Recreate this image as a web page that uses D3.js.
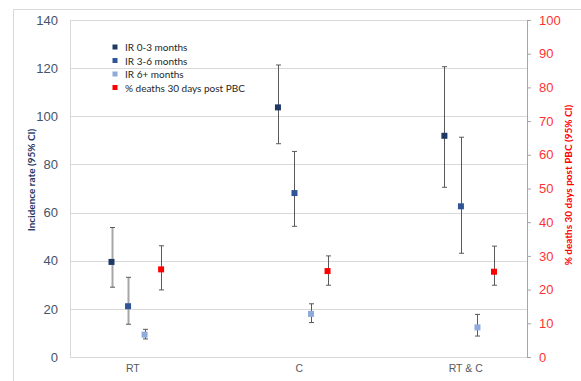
<!DOCTYPE html>
<html>
<head>
<meta charset="utf-8">
<script src="https://cdn.jsdelivr.net/npm/d3@7.9.0/dist/d3.min.js"></script>
<style>
  body { margin: 0; background: #fff; }
  svg { display: block; font-family: Lato, "Liberation Sans", sans-serif; }
</style>
</head>
<body>
<svg id="chart" width="581" height="381"></svg>
<script>
// categories and series
const categories = ['RT', 'C', 'RT & C'];
const seriesNames = ['IR 0-3 months', 'IR 3-6 months', 'IR 6+ months', '% deaths 30 days post PBC'];

// incidence rates (left axis) with 95% CI
const ir03 = [39.5, 103.7, 91.9];
const ir03Lo = [29.0, 88.6, 70.5];
const ir03Hi = [53.8, 121.3, 120.6];

const ir36 = [21.1, 68.1, 62.6];
const ir36Lo = [13.6, 54.3, 43.1];
const ir36Hi = [33.1, 85.4, 91.3];

const ir6p = [9.3, 17.9, 12.3];
const ir6pLo = [7.5, 14.3, 8.7];
const ir6pHi = [11.5, 22.1, 17.7];

// % deaths (right axis) with 95% CI
const deaths = [26.0, 25.5, 25.3];
const deathsLo = [19.9, 21.3, 21.3];
const deathsHi = [33.0, 30.0, 32.9];

const leftTicks = [0, 20, 40, 60, 80, 100, 120, 140];
const rightTicks = [0, 10, 20, 30, 40, 50, 60, 70, 80, 90, 100];

const colors = ['#1f3864', '#2f5597', '#8faadc', '#ff0000'];

const svg = d3.select('#chart');
const plot = { left: 70, right: 527, top: 20, bottom: 357 };

const yL = d3.scaleLinear().domain([0, 140]).range([plot.bottom, plot.top]);
const yR = d3.scaleLinear().domain([0, 100]).range([plot.bottom, plot.top]);
const x = d3.scalePoint().domain(categories).range([136.3, 469.2]);
const offset = d3.scalePoint().domain(seriesNames).range([-24.8, 24.8]);

// chart area border (top/left visible)
svg.append('path')
  .attr('d', 'M13.5,381 V9.5 H581')
  .attr('fill', 'none')
  .attr('stroke', '#d9d9d9');

// gridlines
svg.append('g')
  .selectAll('line')
  .data(leftTicks)
  .join('line')
  .attr('x1', plot.left).attr('x2', plot.right)
  .attr('y1', d => Math.round(yL(d)) + 0.5).attr('y2', d => Math.round(yL(d)) + 0.5)
  .attr('stroke', '#d9d9d9');

// left plot border
svg.append('line')
  .attr('x1', plot.left + 0.5).attr('x2', plot.left + 0.5)
  .attr('y1', plot.top).attr('y2', plot.bottom)
  .attr('stroke', '#d9d9d9');

// left axis
const leftAxis = svg.append('g')
  .attr('transform', `translate(${plot.left},0)`)
  .call(d3.axisLeft(yL).tickValues(leftTicks).tickSize(0).tickPadding(12));
leftAxis.select('.domain').remove();
leftAxis.selectAll('text')
  .attr('fill', '#44546a')
  .style('font-size', '13px');

// right axis
const rightAxis = svg.append('g')
  .attr('transform', `translate(${plot.right},0)`)
  .call(d3.axisRight(yR).tickValues(rightTicks).tickSizeInner(4).tickSizeOuter(0).tickPadding(8));
rightAxis.select('.domain').attr('stroke', '#a6a6a6');
rightAxis.selectAll('.tick line').attr('stroke', '#a6a6a6');
rightAxis.selectAll('text')
  .attr('fill', '#ff3333')
  .style('font-size', '13px');

// bottom axis
const bottomAxis = svg.append('g')
  .attr('transform', `translate(0,${plot.bottom})`)
  .call(d3.axisBottom(x).tickSize(0).tickPadding(8));
bottomAxis.select('.domain').remove();
bottomAxis.selectAll('text')
  .attr('dx', -4)
  .attr('fill', '#595959')
  .style('font-size', '10.5px');
svg.append('line')
  .attr('x1', plot.left).attr('x2', plot.right)
  .attr('y1', plot.bottom + 0.5).attr('y2', plot.bottom + 0.5)
  .attr('stroke', '#d9d9d9');

// axis titles
svg.append('text')
  .attr('transform', 'translate(35,180) rotate(-90)')
  .attr('text-anchor', 'middle')
  .attr('fill', '#1f3864')
  .style('font-size', '10px')
  .style('font-weight', 'bold')
  .text('Incidence rate (95% CI)');

svg.append('text')
  .attr('transform', 'translate(572,185) rotate(-90)')
  .attr('text-anchor', 'middle')
  .attr('fill', '#ff0000')
  .style('font-size', '10px')
  .style('font-weight', 'bold')
  .text('% deaths 30 days post PBC (95% CI)');

// build point rows
const seriesData = [
  { name: seriesNames[0], v: ir03, lo: ir03Lo, hi: ir03Hi, y: yL },
  { name: seriesNames[1], v: ir36, lo: ir36Lo, hi: ir36Hi, y: yL },
  { name: seriesNames[2], v: ir6p, lo: ir6pLo, hi: ir6pHi, y: yL },
  { name: seriesNames[3], v: deaths, lo: deathsLo, hi: deathsHi, y: yR }
];
const points = [];
seriesData.forEach((s, si) => {
  categories.forEach((c, ci) => {
    points.push({ series: s.name, si, cat: c, v: s.v[ci], lo: s.lo[ci], hi: s.hi[ci], y: s.y });
  });
});

// in the reference the first two RT bars look lighter and thicker
const softBars = new Set(['RT|' + seriesNames[0], 'RT|' + seriesNames[1]]);
const px = d => x(d.cat) + offset(d.series);

const bars = svg.append('g');
points.forEach(d => {
  const cx = Math.round(px(d)) + 0.5;
  const soft = softBars.has(d.cat + '|' + d.series);
  bars.append('line')
    .attr('x1', cx).attr('x2', cx)
    .attr('y1', d.y(d.hi)).attr('y2', d.y(d.lo))
    .attr('stroke', soft ? '#a6a6a6' : '#595959')
    .attr('stroke-width', soft ? 2 : 1);
  [d.hi, d.lo].forEach(val => {
    bars.append('line')
      .attr('x1', cx - 2.5).attr('x2', cx + 2.5)
      .attr('y1', d.y(val)).attr('y2', d.y(val))
      .attr('stroke', '#595959');
  });
});

// markers
svg.append('g')
  .selectAll('rect')
  .data(points)
  .join('rect')
  .attr('x', d => px(d) - 3)
  .attr('y', d => d.y(d.v) - 3)
  .attr('width', 6).attr('height', 6)
  .attr('fill', d => colors[d.si]);

// legend
const legend = svg.append('g').attr('transform', 'translate(115,47)');
seriesNames.forEach((name, i) => {
  const row = legend.append('g').attr('transform', `translate(0,${i * 13.5})`);
  row.append('rect')
    .attr('x', -2.5).attr('y', -2.5)
    .attr('width', 5).attr('height', 5)
    .attr('fill', colors[i]);
  row.append('text')
    .attr('x', 10).attr('y', 4)
    .attr('fill', '#262626')
    .style('font-size', '10px')
    .text(name);
});
</script>
</body>
</html>
